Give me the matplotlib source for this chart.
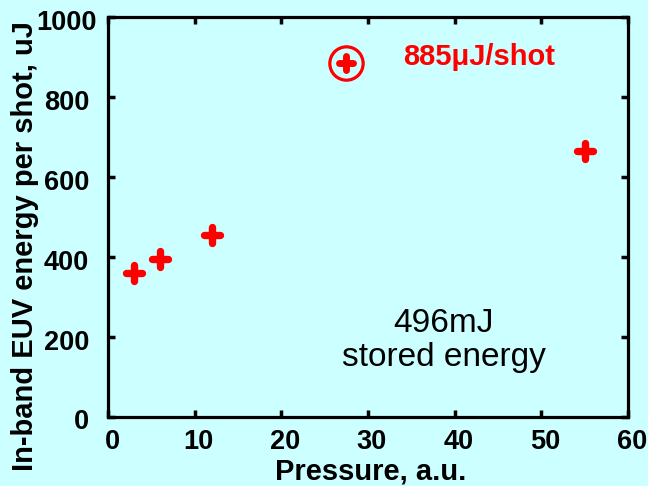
import matplotlib
matplotlib.use("Agg")
import matplotlib.pyplot as plt
import matplotlib.transforms as mtransforms
from matplotlib.markers import MarkerStyle

plt.rcParams['font.family'] = ['Liberation Sans', 'DejaVu Sans']

# Measured in-band EUV energy vs. pressure
pressure = [3, 6, 12, 55]
energy = [360, 395, 455, 665]

# Best shot, highlighted
best_pressure = [27.5]
best_energy = [885]
best_label = "885\u03bcJ/shot"

note_lines = ["496mJ", "stored energy"]

x_ticks = [0, 10, 20, 30, 40, 50, 60]
x_tick_labels = ["0", "10", "20", "30", "40", "50", "60"]
y_ticks = [0, 200, 400, 600, 800, 1000]
y_tick_labels = ["0", "200", "400", "600", "800", "1000"]

bg = "#CCFFFF"
red = "#FF0000"

fig = plt.figure(figsize=(6.48, 4.86), dpi=100, facecolor=bg)
ax = fig.add_axes([0.1667, 0.142, 0.8023, 0.824])
ax.set_facecolor(bg)

plus = MarkerStyle('+', capstyle='round')
ax.plot(pressure, energy, linestyle='none', marker=plus, markersize=12,
        markeredgewidth=5.3, color=red, clip_on=False)
ax.plot(best_pressure, best_energy, linestyle='none', marker=plus, markersize=10.5,
        markeredgewidth=5, color=red)
ax.plot(best_pressure, best_energy, linestyle='none', marker='o', markersize=24,
        markerfacecolor='none', markeredgecolor=red, markeredgewidth=2.3)

ax.text(34, 879, best_label, color=red, fontsize=21, fontweight='bold',
        ha='left', va='baseline')
ax.text(38.75, 212, note_lines[0], color='black', fontsize=24,
        ha='center', va='baseline')
ax.text(38.75, 127, note_lines[1], color='black', fontsize=24,
        ha='center', va='baseline')

ax.set_xlim(0, 60)
ax.set_ylim(0, 1000)
ax.set_xticks(x_ticks)
ax.set_yticks(y_ticks)
ax.tick_params(direction='in', length=5, width=2.5, top=True, right=True,
               labelbottom=False, labelleft=False)
for s in ax.spines.values():
    s.set_linewidth(2.3)

# Tick labels as plain text so each can sit exactly where it belongs
xtrans = mtransforms.blended_transform_factory(ax.transData, ax.transAxes)
for v, t in zip(x_ticks, x_tick_labels):
    tr = xtrans + mtransforms.ScaledTranslation(4 / 100, -25 / 100, fig.dpi_scale_trans)
    ax.text(v, 0, t, transform=tr, fontsize=19.5, fontweight='bold',
            ha='center', va='center')

ytrans = mtransforms.blended_transform_factory(ax.transAxes, ax.transData)
for v, t in zip(y_ticks, y_tick_labels):
    dx = -19 if t != "1000" else -11
    dy = -6 if t != "0" else -5
    tr = ytrans + mtransforms.ScaledTranslation(dx / 100, dy / 100, fig.dpi_scale_trans)
    ax.text(0, v, t, transform=tr, fontsize=19.5, fontweight='bold',
            ha='right', va='center')

fig.text(370.5 / 648, 7 / 486, "Pressure, a.u.", fontsize=21, fontweight='bold',
         ha='center', va='baseline')
fig.text(25 / 648, 0.494, "In-band EUV energy per shot, uJ", fontsize=21,
         fontweight='bold', rotation=90, ha='center', va='center')

fig.savefig("out.png", dpi=100, facecolor=bg)
